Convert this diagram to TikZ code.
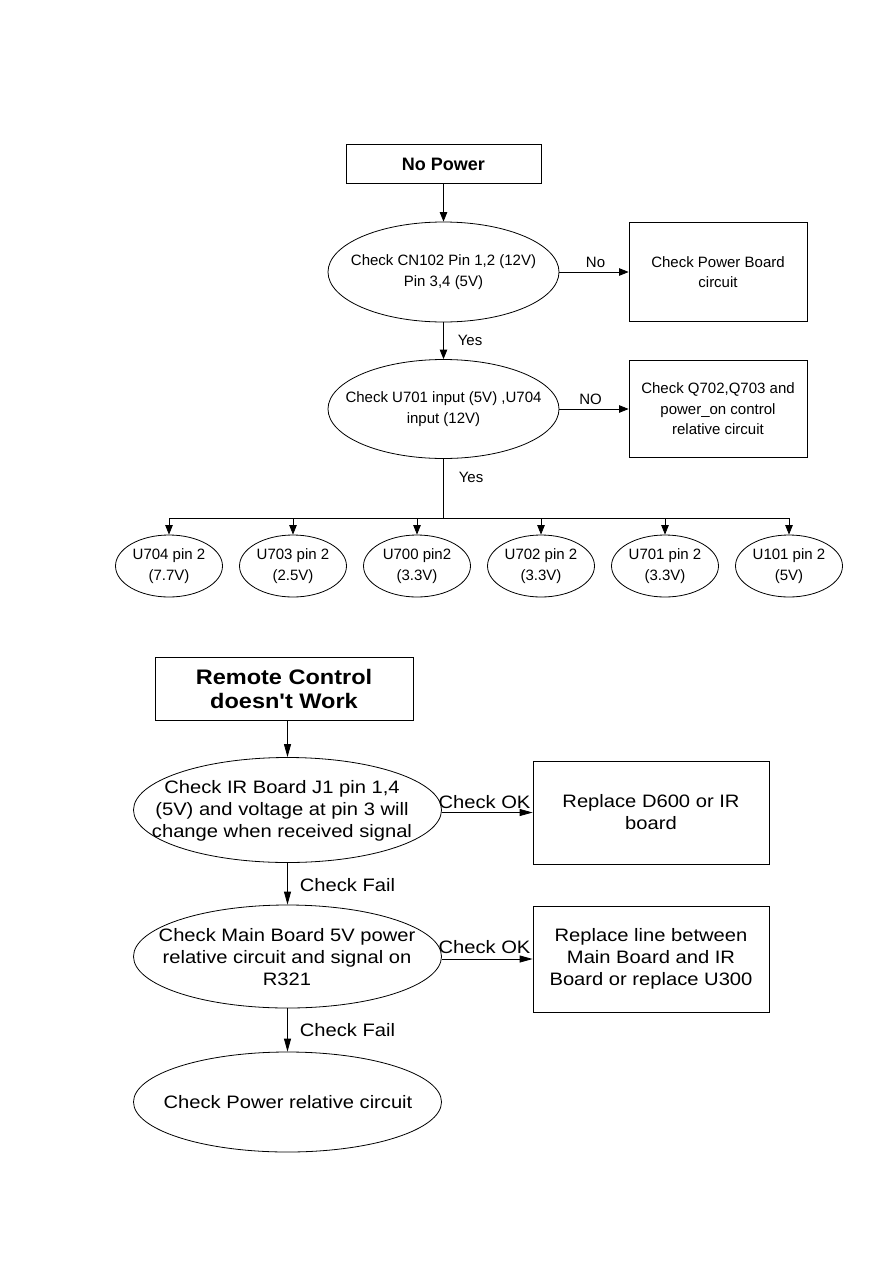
\documentclass[tikz,border=0pt]{standalone}
\usepackage{fontspec}
\setmainfont{Liberation Sans}
\newfontfamily\widefont[FakeStretch=1.12,Ligatures=TeXOff]{Liberation Sans}
\usetikzlibrary{shapes.geometric,arrows.meta}
\begin{document}
\begin{tikzpicture}[x=1pt,y=-1pt,
  line width=0.8pt,
  arr/.style={-{Triangle[length=9.5pt,width=7.5pt]}},
  arrb/.style={-{Triangle[length=13pt,width=7pt]}},
  topfont/.style={font=\fontsize{15}{20.5}\selectfont},
  botfont/.style={font=\widefont\fontsize{18}{22}\selectfont},
  oval/.style={draw, ellipse, inner sep=0pt},
  rbox/.style={draw, rectangle, inner sep=0pt, align=center},
  txt/.style={inner sep=0pt, align=center},
  lbl/.style={inner sep=0pt},
]
\path[fill=white, use as bounding box] (0,0) rectangle (893,1263);

% ---------- No Power ----------
\node[rbox, minimum width=195pt, minimum height=39pt, font=\bfseries\fontsize{18}{22}\selectfont] (np) at (443.5,164) {No Power};

\node[oval, minimum width=231pt, minimum height=100pt] (c1) at (443.5,272) {};
\node[txt, topfont] (c1t) at (c1) {Check CN102 Pin 1,2 (12V)\\Pin 3,4 (5V)};
\node[rbox, topfont, minimum width=178pt, minimum height=99pt] (pb) at (718,272) {Check Power Board\\circuit};

\node[oval, minimum width=231pt, minimum height=99pt] (c2) at (443.5,409) {};
\node[txt, topfont] (c2t) at (c2) {Check U701 input (5V) ,U704\\input (12V)};
\node[rbox, topfont, minimum width=178pt, minimum height=97pt] (qb) at (718,409) {Check Q702,Q703 and\\power\_on control\\relative circuit};

\foreach \i/\a/\b in {1/U704 pin 2/(7.7V), 2/U703 pin 2/(2.5V), 3/U700 pin2/(3.3V), 4/U702 pin 2/(3.3V), 5/U701 pin 2/(3.3V), 6/U101 pin 2/(5V)}{
  \node[oval, minimum width=107pt, minimum height=62pt] (s\i) at ({45+124*\i},566) {};
  \node[txt, topfont] (s\i t) at (s\i) {\a\\\b};
}

\draw[arr] (np) -- (c1);
\draw[arr] (c1) -- (pb);
\node[lbl, topfont] (lno) at (595.5,262) {No};
\draw[arr] (c1) -- (c2);
\node[lbl, topfont] (lyes1) at (470,340) {Yes};
\draw[arr] (c2) -- (qb);
\node[lbl, topfont] (lno2) at (590.5,399) {NO};
\coordinate (bus) at (445,518);
\draw (c2.south) -- (c2.south |- bus);
\node[lbl, topfont] (lyes2) at (471,477) {Yes};
\draw (s1.north |- bus) -- (s6.north |- bus);
\foreach \i in {1,...,6}{
  \draw[arr] (s\i.north |- bus) -- (s\i.north);
}

% ---------- Remote Control ----------
\node[rbox, minimum width=258pt, minimum height=63pt, font=\widefont\bfseries\fontsize{21}{24}\selectfont] (rc) at (284,688.5) {Remote Control\\doesn't Work};

\node[oval, minimum width=308pt, minimum height=105pt] (ir) at (287.5,810) {};
\node[txt, botfont] (irt) at (282,811) {Check IR Board J1 pin 1,4\\(5V) and voltage at pin 3 will\\change when received signal};
\node[rbox, botfont, minimum width=236pt, minimum height=103pt] (rd) at (651,812.5) {Replace D600 or IR\\board};

\node[oval, minimum width=308pt, minimum height=103pt] (mb) at (287.5,956.5) {};
\node[txt, botfont] (mbt) at (287,957) {Check Main Board 5V power\\relative circuit and signal on\\R321};
\node[rbox, botfont, minimum width=236pt, minimum height=106pt] (rl) at (651,959) {Replace line between\\Main Board and IR\\Board or replace U300};

\node[oval, minimum width=308pt, minimum height=100pt] (pr) at (287.5,1102) {};
\node[txt, botfont] (prt) at (288,1102) {Check Power relative circuit};

\draw[arrb] (rc.south -| ir.north) -- (ir.north);
\draw[arrb] (ir.east |- rd.west) -- (rd.west);
\node[lbl, botfont] (ok1) at (484.5,802) {Check OK};
\draw[arrb] (ir) -- (mb);
\node[lbl, botfont] (f1) at (347.5,885) {Check Fail};
\draw[arrb] (mb.east |- rl.west) -- (rl.west);
\node[lbl, botfont] (ok2) at (484.5,947) {Check OK};
\draw[arrb] (mb) -- (pr);
\node[lbl, botfont] (f2) at (347.5,1030) {Check Fail};
\end{tikzpicture}
\end{document}
